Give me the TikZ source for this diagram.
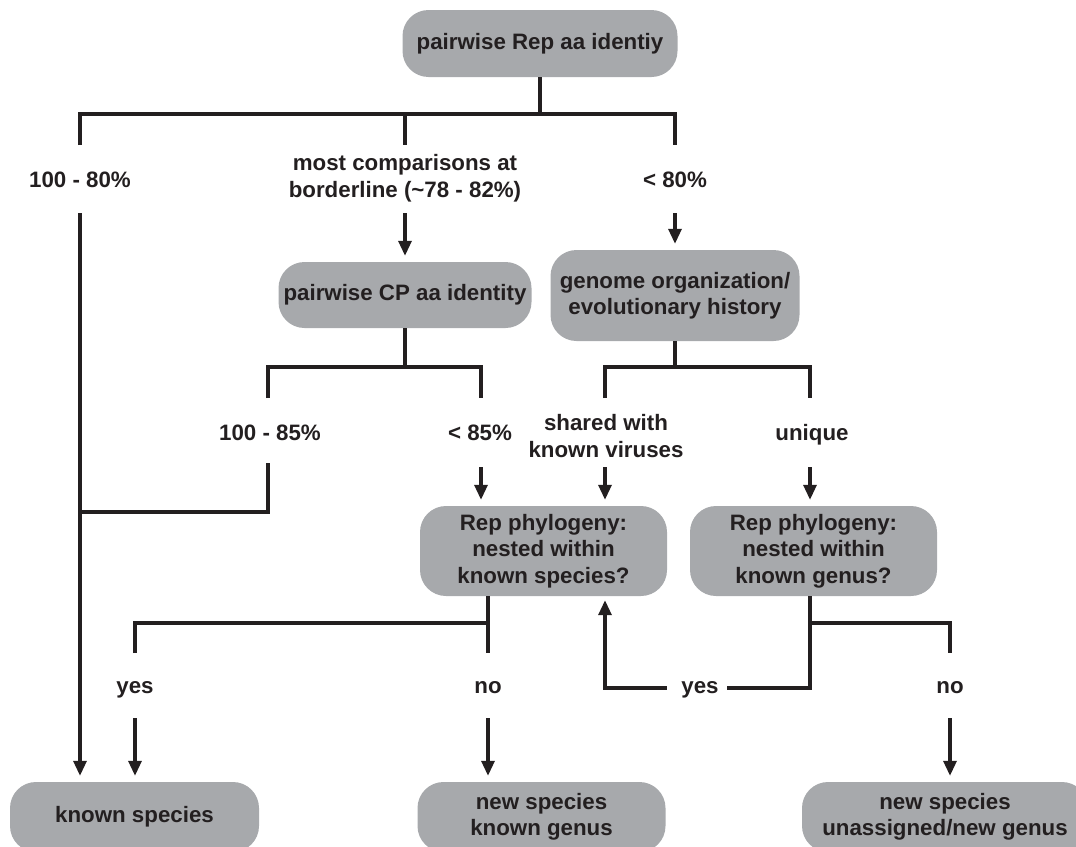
\documentclass[tikz,border=0pt]{standalone}
\usepackage{fontspec}
\setmainfont{Liberation Sans}
\usetikzlibrary{arrows.meta}
\definecolor{boxg}{HTML}{A7A9AC}
\definecolor{lc}{HTML}{231F20}
\begin{document}
\begin{tikzpicture}[x=1pt,y=-1pt,
  every node/.style={font=\fontsize{22.3}{26.5}\selectfont\bfseries, text=lc},
  ln/.style={line width=3.2pt, draw=lc, line cap=butt, line join=miter},
  arr/.style={ln, -{Triangle[length=15pt,width=13pt]}, shorten >=6pt},
  box/.style={fill=boxg, rounded corners=26pt, align=center, inner sep=0pt},
  lab/.style={align=center, inner sep=0pt}]
\useasboundingbox (0,0) rectangle (1076,846);
% boxes
\node[box, minimum width=275pt, minimum height=67pt] (top) at (540,43.5) {pairwise Rep aa identiy};
\node[box, minimum width=253pt, minimum height=66pt] (cp) at (405,295) {pairwise CP aa identity};
\node[box, minimum width=249pt, minimum height=91pt] (gen) at (675,295.5) {genome organization/\\evolutionary history};
\node[box, minimum width=247pt, minimum height=90pt] (sp) at (543.5,551) {Rep phylogeny:\\nested within\\known species?};
\node[box, minimum width=247pt, minimum height=90pt] (ge) at (813.5,551) {Rep phylogeny:\\nested within\\known genus?};
\node[box, minimum width=249pt, minimum height=70pt] (ks) at (134.5,817) {known species};
\node[box, minimum width=248pt, minimum height=70pt] (nk) at (541.5,817) {new species\\known genus};
\node[box, minimum width=286pt, minimum height=70pt] (nu) at (945,817) {new species\\unassigned/new genus};
% labels
\node[lab, anchor=base] (l1) at (80,187) {100 - 80\%};
\node[lab] (l2) at (405,178) {most comparisons at\\borderline (\textasciitilde 78 - 82\%)};
\node[lab, anchor=base] (l3) at (675,187) {< 80\%};
\node[lab, anchor=base] (l4) at (270,440) {100 - 85\%};
\node[lab, anchor=base] (l5) at (480,440) {< 85\%};
\node[lab] (l6) at (606,436) {shared with\\known viruses};
\node[lab, anchor=base] (l7) at (812,440) {unique};
\node[lab, anchor=base] (y1) at (135,693) {yes};
\node[lab, anchor=base] (n1) at (488,693) {no};
\node[lab, anchor=base] (ym) at (700,693) {yes};
\node[lab, anchor=base] (n2) at (950,693) {no};
% top level
\coordinate (j1) at (540,114);
\draw[ln] (top.south) -- (j1);
\draw[ln] (80,145) -- (80,114) -- (675,114) -- (675,145);
\draw[ln] (405,114) -- (405,145);
\draw[arr] (405,213) -- (cp.north);
\draw[arr] (675,213) -- (gen.north);
\draw[arr] (80,213) -- (80,0 |- ks.north);
% CP level
\draw[ln] (cp.south) -- (405,367);
\draw[ln] (268,398) -- (268,367) -- (481,367) -- (481,398);
\draw[ln] (268,463) -- (268,512) -- (80,512);
\draw[arr] (481,467) -- (481,0 |- sp.north);
% genome level
\draw[ln] (gen.south) -- (675,367);
\draw[ln] (605,398) -- (605,367) -- (810,367) -- (810,398);
\draw[arr] (605,467) -- (605,0 |- sp.north);
\draw[arr] (810,467) -- (810,0 |- ge.north);
% species phylogeny
\draw[ln] (488,0 |- sp.south) -- (488,653);
\draw[ln] (135,653) -- (135,623) -- (488,623);
\draw[arr] (135,718) -- (135,0 |- ks.north);
\draw[arr] (488,718) -- (488,0 |- nk.north);
% genus phylogeny
\draw[ln] (810,0 |- ge.south) -- (810,688) -- ([xshift=8.5pt]ym.east |- 0,688);
\draw[arr, shorten >=4pt] ([xshift=-14.5pt]ym.west |- 0,688) -- (605,688) -- (605,0 |- sp.south);
\draw[ln] (810,623) -- (950,623) -- (950,653);
\draw[arr] (950,718) -- (950,0 |- nu.north);
\end{tikzpicture}
\end{document}
